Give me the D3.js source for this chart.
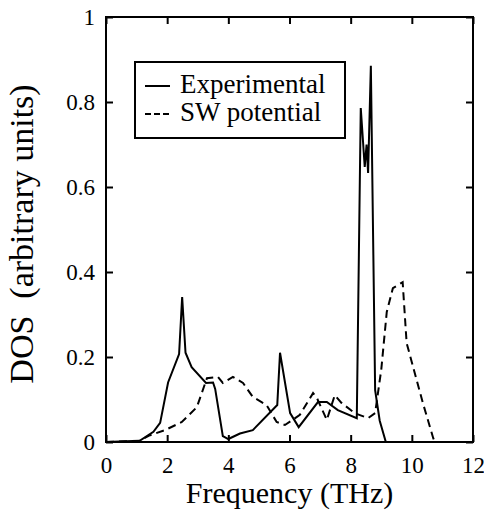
<!DOCTYPE html>
<html>
<head>
<meta charset="utf-8">
<script src="https://cdn.jsdelivr.net/npm/d3@7/dist/d3.min.js"></script>
<style>
body { margin: 0; background: #fff; }
.dos-axis path { display: none; }
.dos-axis line { stroke: #000; stroke-width: 2; }
.dos-exp { fill: none; stroke: #000; stroke-width: 2; stroke-linejoin: miter; }
.dos-sw { fill: none; stroke: #000; stroke-width: 2; stroke-dasharray: 8 5; }
</style>
</head>
<body>
<script>
// Experimental DOS (solid)
const expFreq = [0, 1.1, 1.55, 1.77, 2.03, 2.39, 2.49, 2.6, 2.8, 3.27, 3.5, 3.57, 3.82, 4.0, 4.38, 4.8, 5.6, 5.69, 6.02, 6.3, 6.93, 7.22, 7.58, 8.2, 8.33, 8.46, 8.52, 8.57, 8.66, 8.8, 8.95, 9.15];
const expDos  = [0, 0.003, 0.024, 0.045, 0.14, 0.207, 0.341, 0.21, 0.176, 0.139, 0.14, 0.125, 0.014, 0.007, 0.02, 0.028, 0.087, 0.21, 0.068, 0.035, 0.094, 0.094, 0.075, 0.056, 0.786, 0.647, 0.7, 0.633, 0.885, 0.122, 0.05, 0];

// SW potential DOS (dashed)
const swFreq = [0, 1.1, 1.44, 1.93, 2.48, 2.97, 3.3, 3.66, 3.82, 4.15, 4.48, 4.8, 5.25, 5.58, 5.85, 6.1, 6.34, 6.77, 6.9, 7.22, 7.48, 7.7, 8.13, 8.57, 8.8, 9.0, 9.18, 9.38, 9.7, 9.83, 10.36, 10.7, 10.75];
const swDos  = [0, 0.003, 0.016, 0.028, 0.047, 0.082, 0.15, 0.153, 0.139, 0.153, 0.139, 0.106, 0.087, 0.047, 0.04, 0.052, 0.064, 0.115, 0.103, 0.052, 0.11, 0.092, 0.068, 0.056, 0.068, 0.17, 0.306, 0.362, 0.376, 0.233, 0.092, 0.009, 0];

const xTicks = [0, 2, 4, 6, 8, 10, 12];
const xTickLabels = ["0", "2", "4", "6", "8", "10", "12"];
const yTicks = [0, 0.2, 0.4, 0.6, 0.8, 1];
const yTickLabels = ["0", "0.2", "0.4", "0.6", "0.8", "1"];

const legendLabels = ["Experimental", "SW potential"];
const xTitle = "Frequency (THz)";
const yTitle = "DOS\u00a0\u00a0(arbitrary units)";

function dosPlot() {
    const width = 484, height = 523;
    const margin = { left: 106, top: 17, right: 11, bottom: 81 };
    const w = width - margin.left - margin.right;
    const h = height - margin.top - margin.bottom;
    const serif = "'Liberation Serif', 'Times New Roman', Times, Tinos, FreeSerif, serif";

    let svg = d3.select("body")
	.append("svg")
	.attr("width", width)
	.attr("height", height);

    let g = svg.append("g")
	.attr("transform", "translate(" + margin.left + "," + margin.top + ")");

    let x = d3.scaleLinear().domain([0, 12]).range([0, w]);
    let y = d3.scaleLinear().domain([0, 1]).range([h, 0]);

    // bottom axis, ticks pointing in
    let xa = g.append("g")
	.classed("dos-axis", true)
	.attr("transform", "translate(0," + h + ")")
	.call(d3.axisBottom(x)
	      .tickValues(xTicks)
	      .tickSize(-7)
	      .tickFormat((d, i) => xTickLabels[i]));
    xa.selectAll("text")
	.attr("y", 31).attr("dy", null)
	.style("font-size", "23px", "important");

    // top axis, ticks only
    g.append("g")
	.classed("dos-axis", true)
	.call(d3.axisTop(x).tickValues(xTicks).tickSize(-7).tickFormat(""));

    // left axis
    let ya = g.append("g")
	.classed("dos-axis", true)
	.call(d3.axisLeft(y)
	      .tickValues(yTicks)
	      .tickSize(-7)
	      .tickPadding(11)
	      .tickFormat((d, i) => yTickLabels[i]));
    ya.selectAll("text")
	.attr("dy", "0.34em")
	.style("font-size", "23px", "important");

    // right axis, ticks only
    g.append("g")
	.classed("dos-axis", true)
	.attr("transform", "translate(" + w + ",0)")
	.call(d3.axisRight(y).tickValues(yTicks).tickSize(-7).tickFormat(""));

    // frame
    g.append("rect")
	.attr("width", w).attr("height", h)
	.attr("fill", "none")
	.attr("stroke", "#000")
	.attr("stroke-width", 2);

    let line = d3.line()
	.x(d => x(d[0]))
	.y(d => y(d[1]));

    g.append("path")
	.datum(d3.zip(swFreq, swDos))
	.classed("dos-sw", true)
	.attr("d", line);

    g.append("path")
	.datum(d3.zip(expFreq, expDos))
	.classed("dos-exp", true)
	.attr("d", line);

    // legend
    let lg = g.append("g").attr("transform", "translate(" + (135 - margin.left) + "," + (62 - margin.top) + ")");
    lg.append("rect")
	.attr("width", 210).attr("height", 76)
	.attr("fill", "#fff")
	.attr("stroke", "#000")
	.attr("stroke-width", 2);
    legendLabels.forEach(function(label, i) {
	let ly = 31 + i * 28;
	lg.append("line")
	    .attr("x1", 10).attr("x2", 35)
	    .attr("y1", ly - 7).attr("y2", ly - 7)
	    .attr("stroke", "#000")
	    .attr("stroke-width", 2)
	    .attr("stroke-dasharray", i == 0 ? null : "6 3");
	lg.append("text")
	    .attr("x", 45).attr("y", ly)
	    .style("font-size", "27px", "important")
	    .text(label);
    });

    // axis titles
    svg.append("text")
	.attr("x", margin.left + x(6)).attr("y", 503)
	.attr("text-anchor", "middle")
	.style("font-size", "30px", "important")
	.text(xTitle);

    svg.append("text")
	.attr("transform", "translate(33,234) rotate(-90)")
	.attr("text-anchor", "middle")
	.style("font-size", "34px", "important")
	.text(yTitle);

    // all text in one serif face
    svg.selectAll("text")
	.style("font-family", serif, "important")
	.style("fill", "#000");
}

dosPlot();
</script>
</body>
</html>
